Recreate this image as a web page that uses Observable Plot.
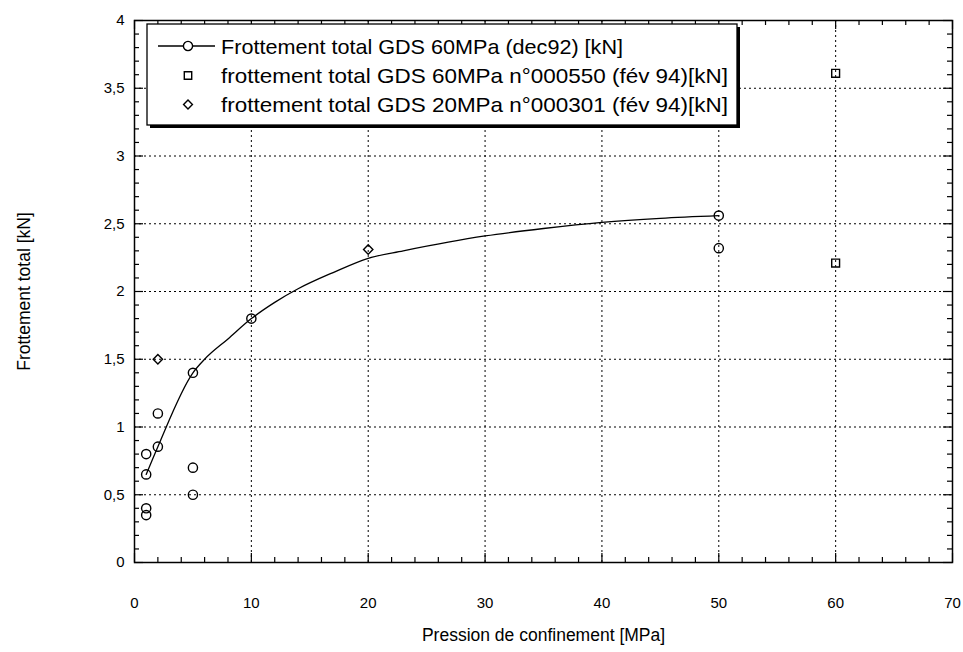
<!DOCTYPE html>
<html><head><meta charset="utf-8">
<script src="https://cdn.jsdelivr.net/npm/d3@7"></script>
<script src="https://cdn.jsdelivr.net/npm/@observablehq/plot@0.6"></script>
<style>body{margin:0;background:#fff} svg{display:block}</style>
</head><body><div id="chart"></div>
<script>
// Smooth fitted curve of the dec92 series
const fitX = [1, 2, 5, 6, 8, 10, 12, 14, 17, 20, 23, 30, 35, 40, 45, 50];
const fitY = [0.65, 0.855, 1.40, 1.50, 1.65, 1.80, 1.92, 2.02, 2.14, 2.245, 2.30, 2.41, 2.465, 2.51, 2.54, 2.56];
// Frottement total GDS 60MPa (dec92) — circles
const dec92X = [1, 2, 5, 10, 50, 1, 2, 5, 5, 1, 1, 50];
const dec92Y = [0.65, 0.855, 1.40, 1.80, 2.56, 0.80, 1.10, 0.70, 0.50, 0.40, 0.35, 2.32];
// frottement total GDS 60MPa n°000550 — squares
const n550X = [60, 60];
const n550Y = [3.61, 2.21];
// frottement total GDS 20MPa n°000301 — diamonds
const n301X = [2, 20];
const n301Y = [1.50, 2.31];
const seriesLabels = [
  "Frottement total GDS 60MPa (dec92) [kN]",
  "frottement total GDS 60MPa n°000550 (fév 94)[kN]",
  "frottement total GDS 20MPa n°000301 (fév 94)[kN]"
];
const xTicks = [0, 10, 20, 30, 40, 50, 60, 70];
const yTicks = [0, 0.5, 1, 1.5, 2, 2.5, 3, 3.5, 4];
const xGrid = [10, 20, 30, 40, 50, 60];
const yGrid = [0.5, 1, 1.5, 2, 2.5, 3, 3.5];
const xMinor = d3.range(0, 71, 2);
const yMinor = d3.range(0, 41, 1).map(d => d / 10);
const xLabel = "Pression de confinement [MPa]";
const yLabel = "Frottement total [kN]";

const W = 963, H = 652, mL = 134, mR = 11, mT = 20, mB = 90;
const pw = W - mL - mR, ph = H - mT - mB;
const FONT = "'Liberation Sans', Arial, Helvetica, sans-serif";

const fit = fitX.map((x, i) => ({x, y: fitY[i]}));
const dec92 = dec92X.map((x, i) => ({x, y: dec92Y[i]}));
const n550 = n550X.map((x, i) => ({x, y: n550Y[i]}));
const n301 = n301X.map((x, i) => ({x, y: n301Y[i]}));
const yMajorSet = new Set(yTicks);
const yMin = yMinor.filter(d => !yMajorSet.has(d));
const xMajorSet = new Set(xTicks);
const xMin = xMinor.filter(d => !xMajorSet.has(d));

const chart = Plot.plot({
  width: W, height: H,
  marginLeft: mL, marginRight: mR, marginTop: mT, marginBottom: mB,
  style: {fontFamily: FONT, background: "white", color: "black"},
  x: {domain: [0, 70]},
  y: {domain: [0, 4]},
  marks: [
    Plot.gridX(xGrid, {stroke: "black", strokeOpacity: 1, strokeWidth: 1, strokeDasharray: "2,3"}),
    Plot.gridY(yGrid, {stroke: "black", strokeOpacity: 1, strokeWidth: 1, strokeDasharray: "2,3"}),
    // inward ticks: left / right
    Plot.tickY(yMin, {y: d => d, insetRight: pw - 5, strokeWidth: 1.2}),
    Plot.tickY(yTicks, {y: d => d, insetRight: pw - 9, strokeWidth: 1.2}),
    Plot.tickY(yMin, {y: d => d, insetLeft: pw - 5, strokeWidth: 1.2}),
    Plot.tickY(yTicks, {y: d => d, insetLeft: pw - 9, strokeWidth: 1.2}),
    // inward ticks: bottom / top
    Plot.tickX(xMin, {x: d => d, insetTop: ph - 5, strokeWidth: 1.2}),
    Plot.tickX(xTicks, {x: d => d, insetTop: ph - 9, strokeWidth: 1.2}),
    Plot.tickX(xMin, {x: d => d, insetBottom: ph - 5, strokeWidth: 1.2}),
    Plot.tickX(xTicks, {x: d => d, insetBottom: ph - 9, strokeWidth: 1.2}),
    Plot.frame({stroke: "black", strokeWidth: 1.5}),
    Plot.axisX({ticks: xTicks, tickSize: 0, tickPadding: 35, fontSize: 15, label: null}),
    Plot.axisY({ticks: yTicks, tickSize: 0, tickPadding: 10, fontSize: 15, label: null,
      tickFormat: d => String(d).replace(".", ",")}),
    Plot.text([xLabel], {frameAnchor: "bottom", dy: 66, lineAnchor: "top", fontSize: 17.5}),
    Plot.text([yLabel], {frameAnchor: "left", dx: -110, rotate: -90, textAnchor: "middle", fontSize: 17.5}),
    Plot.line(fit, {x: "x", y: "y", curve: "monotone-x", stroke: "black", strokeWidth: 1.3}),
    Plot.dot(dec92, {x: "x", y: "y", r: 4.6, stroke: "black", strokeWidth: 1.4, fill: "none"}),
    Plot.dot(n550, {x: "x", y: "y", r: 5, symbol: "square2", stroke: "black", strokeWidth: 1.4, fill: "none"}),
    Plot.dot(n301, {x: "x", y: "y", r: 4.2, symbol: "diamond2", stroke: "black", strokeWidth: 1.4, fill: "none"})
  ]
});
document.getElementById("chart").appendChild(chart);

// Legend box with drop shadow
const svg = d3.select(chart);
const g = svg.append("g").attr("font-family", FONT).attr("text-anchor", "start");
const bx = 147, by = 24, bw = 590, bh = 101;
g.append("rect").attr("x", bx + 3).attr("y", by + 3).attr("width", bw).attr("height", bh).attr("fill", "black");
g.append("rect").attr("x", bx).attr("y", by).attr("width", bw).attr("height", bh)
  .attr("fill", "white").attr("stroke", "black").attr("stroke-width", 1.3);
const rowsBase = [53.5, 83, 112];
const textLens = [402, 507, 507];
const symX = 188;
seriesLabels.forEach((lab, i) => {
  const cy = rowsBase[i] - 7.5;
  if (i === 0) {
    g.append("line").attr("x1", 158).attr("x2", 215).attr("y1", cy).attr("y2", cy)
      .attr("stroke", "black").attr("stroke-width", 1.3);
  }
  const type = [d3.symbolCircle, d3.symbolSquare2, d3.symbolDiamond2][i];
  const size = [66, 70, 50][i];
  g.append("path").attr("d", d3.symbol(type, size)())
    .attr("transform", `translate(${symX},${cy})`)
    .attr("fill", i === 0 ? "white" : "none").attr("stroke", "black").attr("stroke-width", 1.4);
  g.append("text").attr("x", 221).attr("y", rowsBase[i]).attr("font-size", 21)
    .attr("text-anchor", "start")
    .attr("textLength", textLens[i]).attr("lengthAdjust", "spacingAndGlyphs")
    .attr("fill", "black").text(lab);
});
</script>
</body></html>
